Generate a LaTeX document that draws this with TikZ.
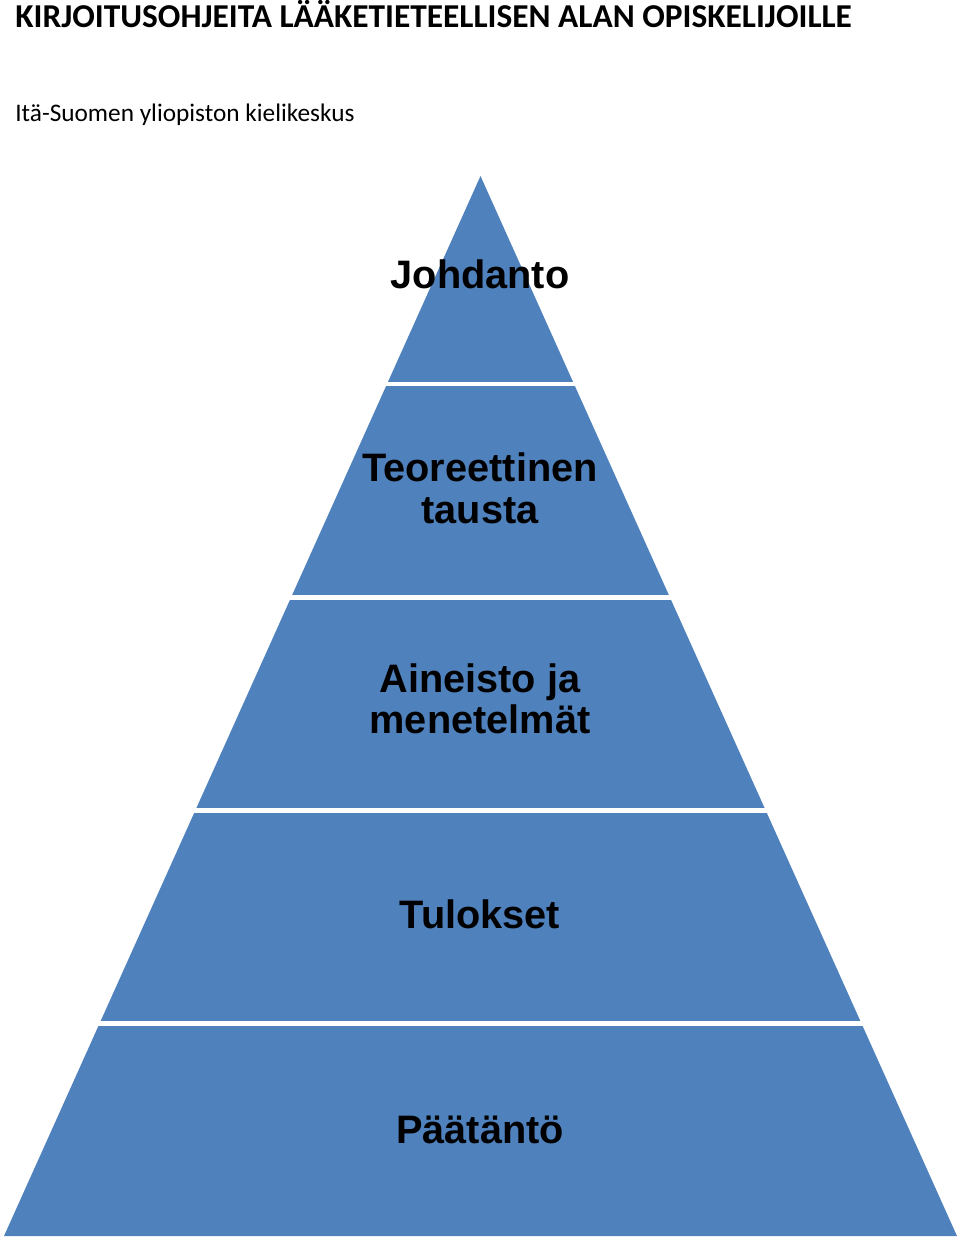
\documentclass[tikz,border=0pt]{standalone}
\usepackage{fontspec}
\usepackage{tikz}
\usetikzlibrary{positioning}
\newfontfamily\headfont{Carlito}
\newfontfamily\labelfont{Liberation Sans}
\definecolor{pyrblue}{HTML}{4F81BD}
\tikzset{level/.style = {fill=pyrblue, draw=none}}
\tikzset{gap/.style = {draw=white, line width=2.6pt}}
\tikzset{lbl/.style = {font=\labelfont\bfseries\fontsize{22.6}{23.4}\selectfont, align=center, inner sep=0, anchor=base}}

\begin{document}
\begin{tikzpicture}[x=0.02cm, y=-0.02cm]
      \useasboundingbox (0,0) rectangle (960,1242);
      \node (title) [anchor=base west, inner sep=0, font=\headfont\bfseries\fontsize{19}{22}\selectfont] at (15,27.3)
            {KIRJOITUSOHJEITA LÄÄKETIETEELLISEN ALAN OPISKELIJOILLE};
      \node (subtitle) [anchor=base west, inner sep=0, font=\headfont\fontsize{14.4}{17}\selectfont] at (15,121.7)
            {Itä-Suomen yliopiston kielikeskus};
      % the pyramid
      \coordinate (apex) at (480.5,176);
      \coordinate (bl) at (4,1236);
      \coordinate (br) at (957,1236);
      \fill[level] (apex) -- (br) -- (bl) -- cycle;
      \foreach \y in {384,597.5,810.5,1023.5}
        \draw[gap] (0,\y) -- (960,\y);
      % labels (base = last line)
      \node (johdanto) [lbl] at (480,288) {Johdanto};
      \node (tausta) [lbl] at (480,523) {Teoreettinen\\tausta};
      \node (aineisto) [lbl] at (480,733.5) {Aineisto ja\\menetelmät};
      \node (tulokset) [lbl] at (480,928) {Tulokset};
      \node (paatanto) [lbl] at (480,1143) {Päätäntö};
    \end{tikzpicture}
\end{document}
